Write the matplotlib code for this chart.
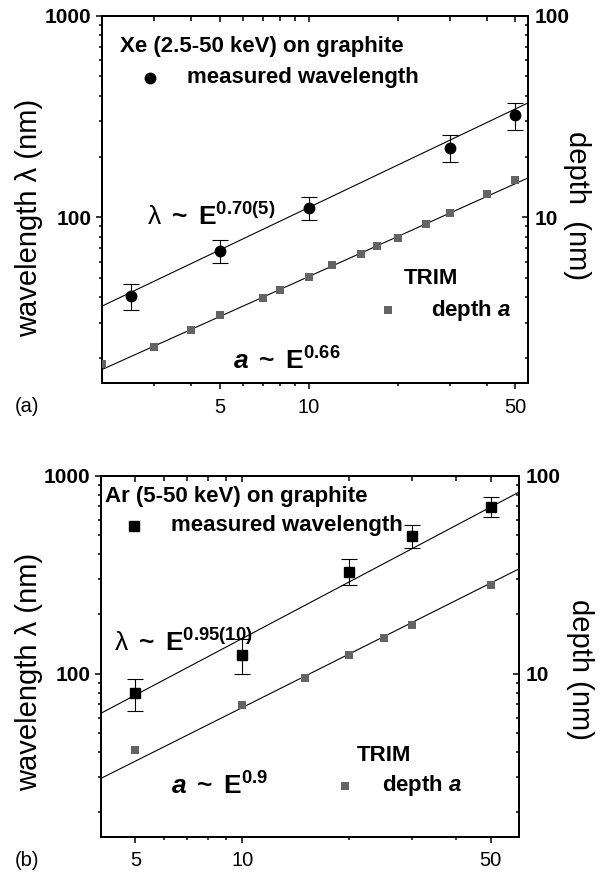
import numpy as np
import matplotlib
matplotlib.use('Agg')
import matplotlib.pyplot as plt
from matplotlib.ticker import NullFormatter

plt.rcParams['font.family'] = ['Liberation Sans', 'DejaVu Sans']
plt.rcParams['mathtext.fontset'] = 'custom'
plt.rcParams['mathtext.rm'] = 'Liberation Sans'
plt.rcParams['mathtext.bf'] = 'Liberation Sans:bold'
plt.rcParams['mathtext.it'] = 'Liberation Sans:italic:bold'
plt.rcParams['mathtext.sf'] = 'Liberation Sans'

# (a) Xe on graphite: measured wavelength (left axis, nm)
xe_E = [2.5, 5, 10, 30, 50]
xe_lam = [40.8, 68.2, 111, 220, 321]
xe_hi = [46.8, 77.4, 126, 255, 370]
xe_lo = [34.8, 59.2, 96.7, 187, 272]
# TRIM depth a (right axis, nm)
xe_trim_E = [2, 3, 4, 5, 7, 8, 10, 12, 15, 17, 20, 25, 30, 40, 50]
xe_trim_a = [1.87, 2.26, 2.77, 3.27, 3.98, 4.37, 5.08, 5.78, 6.57, 7.20, 7.91,
             9.27, 10.55, 13.0, 15.3]
xe_fit_lam = (22.3, 0.70)   # prefactor, exponent
xe_fit_a = (1.111, 0.66)

# (b) Ar on graphite
ar_E = [5, 10, 20, 30, 50]
ar_lam = [79.8, 123.6, 328, 496, 698]
ar_hi = [94.3, 149, 380, 566, 778]
ar_lo = [64.8, 100, 279, 430, 617]
ar_trim_E = [5, 10, 15, 20, 25, 30, 50]
ar_trim_a = [4.10, 6.97, 9.54, 12.4, 15.1, 17.7, 28.1]
ar_fit_lam = (16.9, 0.95)
ar_fit_a = (0.849, 0.90)

gray = '#646464'
W, H = 608, 877
fs_txt = 16     # legend-like texts
fs_fit = 19     # power-law labels
fs_lab = 21     # axis titles


def setup(ax, ax2, xlim, xmaj, xmin):
    ax.set_xscale('log')
    ax.set_yscale('log')
    ax2.set_yscale('log')
    ax.set_xlim(xlim)
    ax.set_ylim(15, 1000)
    ax2.set_ylim(1.5, 100)
    ax.set_xticks(xmaj, labels=[str(v) for v in xmaj])
    ax.set_xticks(xmin, minor=True)
    ax.xaxis.set_minor_formatter(NullFormatter())
    ax.set_yticks([100, 1000], labels=['100', '1000'])
    ax.set_yticks(list(range(20, 100, 10)) + list(range(200, 1000, 100)), minor=True)
    ax.yaxis.set_minor_formatter(NullFormatter())
    ax2.set_yticks([10, 100], labels=['10', '100'])
    ax2.set_yticks(list(range(2, 10)) + list(range(20, 100, 10)), minor=True)
    ax2.yaxis.set_minor_formatter(NullFormatter())
    for lab in ax.get_yticklabels() + ax2.get_yticklabels():
        lab.set_fontweight('bold')
    ax.tick_params(axis='both', which='both', direction='out', width=1.1)
    ax.tick_params(axis='x', labelsize=14.5, pad=6)
    ax.tick_params(axis='y', labelsize=15, pad=3)
    ax.tick_params(which='major', length=4.5)
    ax.tick_params(which='minor', length=2.5)
    ax2.tick_params(axis='y', which='both', direction='in', width=1.1, labelsize=15, pad=5)
    ax2.tick_params(axis='y', which='major', length=4.5)
    ax2.tick_params(axis='y', which='minor', length=2.5)
    # top ticks pointing inward
    ax2.xaxis.set_visible(True)
    ax2.tick_params(axis='x', which='both', direction='in', top=True, bottom=False,
                    labeltop=False, labelbottom=False, width=1.1)
    ax2.tick_params(axis='x', which='major', length=4.5)
    ax2.tick_params(axis='x', which='minor', length=3.5)
    for a in (ax, ax2):
        for s in a.spines.values():
            s.set_linewidth(1.4)


fig = plt.figure(figsize=(W / 100, H / 100), dpi=100)

# ---------------- panel (a)
ax = fig.add_axes([102 / W, 1 - 383.3 / H, 425.7 / W, 367.6 / H])
ax2 = ax.twinx()
setup(ax, ax2, (2, 55), [5, 10, 50], [3, 4, 6, 7, 8, 9, 20, 30, 40])

ef = np.array(ax.get_xlim())
ax.plot(ef, xe_fit_lam[0] * ef ** xe_fit_lam[1], 'k-', lw=0.8)
ax2.plot(ef, xe_fit_a[0] * ef ** xe_fit_a[1], 'k-', lw=0.8)
lam = np.array(xe_lam)
ax.errorbar(xe_E, lam, yerr=[lam - np.array(xe_lo), np.array(xe_hi) - lam], fmt='o',
            color='k', ms=7.5, capsize=5.5, elinewidth=0.8, capthick=0.8, zorder=3)
ax2.plot(xe_trim_E, xe_trim_a, 's', color=gray, ms=6, mew=0, zorder=3)

ax.text(0.042, 0.915, 'Xe (2.5-50 keV) on graphite', transform=ax.transAxes,
        fontsize=fs_txt, fontweight='bold', va='center')
ax.plot([0.113], [0.831], 'o', color='k', ms=7.5, transform=ax.transAxes)
ax.text(0.200, 0.831, 'measured wavelength', transform=ax.transAxes,
        fontsize=fs_txt, fontweight='bold', va='center')
ax.text(0.105, 0.431, r'$\mathrm{\lambda}\,$ ~ $\,$E$^{\mathbf{0.70(5)}}$',
        transform=ax.transAxes, fontsize=fs_fit, fontweight='bold', va='baseline')
ax.text(0.307, 0.036, r'$\mathit{a}\,$ ~ $\,$E$^{\mathbf{0.66}}$',
        transform=ax.transAxes, fontsize=fs_fit, fontweight='bold', va='baseline')
ax.text(0.708, 0.286, 'TRIM', transform=ax.transAxes, fontsize=fs_txt,
        fontweight='bold', va='center')
ax.plot([0.672], [0.199], 's', color=gray, ms=6, mew=0, transform=ax.transAxes)
ax.text(0.772, 0.199, r'depth $\mathit{a}$', transform=ax.transAxes, fontsize=fs_txt,
        fontweight='bold', va='center')

ax.set_ylabel('wavelength λ (nm)', fontsize=fs_lab)
ax.yaxis.set_label_coords(-0.139, 0.45)
ax2.set_ylabel('depth  (nm)', fontsize=fs_lab, rotation=270, va='center')
ax2.yaxis.set_label_coords(1.116, 0.485)
fig.text(27 / W, 1 - 407 / H, '(a)', fontsize=14.5, ha='center', va='center')

# ---------------- panel (b)
bx = fig.add_axes([101 / W, 1 - 836.7 / H, 418 / W, 361 / H])
bx2 = bx.twinx()
setup(bx, bx2, (4, 60), [5, 10, 50], [6, 7, 8, 9, 20, 30, 40])

ef = np.array(bx.get_xlim())
bx.plot(ef, ar_fit_lam[0] * ef ** ar_fit_lam[1], 'k-', lw=0.8)
bx2.plot(ef, ar_fit_a[0] * ef ** ar_fit_a[1], 'k-', lw=0.8)
lam = np.array(ar_lam)
bx.errorbar(ar_E, lam, yerr=[lam - np.array(ar_lo), np.array(ar_hi) - lam], fmt='s',
            color='k', ms=7, capsize=5.5, elinewidth=0.8, capthick=0.8, zorder=3)
bx2.plot(ar_trim_E, ar_trim_a, 's', color=gray, ms=6, mew=0, zorder=3)

bx.text(0.009, 0.942, 'Ar (5-50 keV) on graphite', transform=bx.transAxes,
        fontsize=fs_txt, fontweight='bold', va='center')
bx.plot([0.0787], [0.861], 's', color='k', ms=7, transform=bx.transAxes)
bx.text(0.167, 0.861, 'measured wavelength', transform=bx.transAxes,
        fontsize=fs_txt, fontweight='bold', va='center')
bx.text(0.032, 0.515, r'$\mathrm{\lambda}\,$ ~ $\,$E$^{\mathbf{0.95(10)}}$',
        transform=bx.transAxes, fontsize=fs_fit, fontweight='bold', va='baseline')
bx.text(0.167, 0.116, r'$\mathit{a}\,$ ~ $\,$E$^{\mathbf{0.9}}$',
        transform=bx.transAxes, fontsize=fs_fit, fontweight='bold', va='baseline')
bx.text(0.613, 0.226, 'TRIM', transform=bx.transAxes, fontsize=fs_txt,
        fontweight='bold', va='center')
bx.plot([0.583], [0.141], 's', color=gray, ms=6, mew=0, transform=bx.transAxes)
bx.text(0.673, 0.141, r'depth $\mathit{a}$', transform=bx.transAxes, fontsize=fs_txt,
        fontweight='bold', va='center')

bx.set_ylabel('wavelength λ (nm)', fontsize=fs_lab)
bx.yaxis.set_label_coords(-0.139, 0.457)
bx2.set_ylabel('depth (nm)', fontsize=fs_lab, rotation=270, va='center')
bx2.yaxis.set_label_coords(1.146, 0.462)
fig.text(27 / W, 1 - 860 / H, '(b)', fontsize=14.5, ha='center', va='center')

fig.savefig('out.png', dpi=100)
